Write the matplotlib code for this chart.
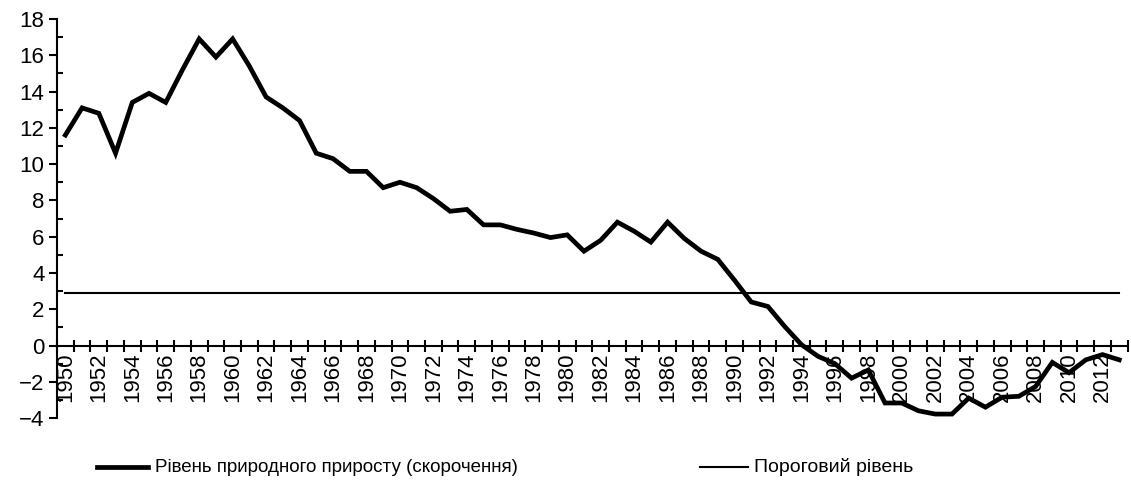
import numpy as np
import matplotlib.pyplot as plt

plt.rcParams['font.family'] = ['Liberation Sans', 'DejaVu Sans']

years = list(range(1950, 2014))
growth = [11.6, 13.1, 12.8, 10.6, 13.4, 13.9, 13.4, 15.2, 16.9, 15.9,
          16.9, 15.4, 13.7, 13.1, 12.4, 10.6, 10.3, 9.6, 9.6, 8.7,
          9.0, 8.7, 8.1, 7.4, 7.5, 6.65, 6.65, 6.4, 6.2, 5.95,
          6.1, 5.2, 5.8, 6.8, 6.3, 5.7, 6.8, 5.9, 5.2, 4.75,
          3.6, 2.4, 2.15, 1.05, 0.05, -0.6, -1.0, -1.8, -1.35, -3.17,
          -3.17, -3.6, -3.78, -3.78, -2.9, -3.4, -2.85, -2.8, -2.26, -0.93,
          -1.5, -0.79, -0.5, -0.79]
threshold = [2.9] * len(years)

label_growth = 'Рівень природного приросту (скорочення)'
label_threshold = 'Пороговий рівень'

fig = plt.figure(figsize=(11.31, 4.93), dpi=100)
ax = fig.add_axes([0.0504, 0.152, 0.9466, 0.8095])

ax.plot(years, threshold, color='black', lw=1.5, zorder=2)
ax.plot(years, growth, color='black', lw=3.4, solid_joinstyle='miter', zorder=3)

ax.set_xlim(1949.5, 2013.5)
ax.set_ylim(-4, 18)

for s in ['top', 'right']:
    ax.spines[s].set_visible(False)
ax.spines['bottom'].set_position(('data', 0))
ax.spines['bottom'].set_linewidth(1.5)
ax.spines['left'].set_linewidth(1.5)

ax.set_yticks(np.arange(-4, 19, 2))
ax.set_yticks(np.arange(-3, 18, 2), minor=True)
ax.tick_params(axis='y', which='major', direction='out', length=6, width=1.5,
               labelsize=16, pad=3)
ax.tick_params(axis='y', which='minor', direction='in', length=4, width=1.5)

ax.set_xticks(years[::2])
ax.set_xticklabels([str(y) for y in years[::2]], rotation=90)
ax.set_xticks(np.arange(1949.5, 2014.5, 1), minor=True)
ax.tick_params(axis='x', which='major', length=0, labelsize=16, pad=5)
ax.tick_params(axis='x', which='minor', direction='inout', length=8, width=1.5)

# legend drawn by hand in figure pixels
legend_y = 0.052
fig.add_artist(plt.Line2D([97 / 1131, 148 / 1131], [legend_y, legend_y],
                          color='black', lw=3.4))
fig.text(155 / 1131, legend_y, label_growth, fontsize=13.5, va='center')
fig.add_artist(plt.Line2D([700 / 1131, 748 / 1131], [legend_y, legend_y],
                          color='black', lw=1.5))
fig.text(754 / 1131, legend_y, label_threshold, fontsize=14, va='center')

fig.savefig('out.png', dpi=100)
